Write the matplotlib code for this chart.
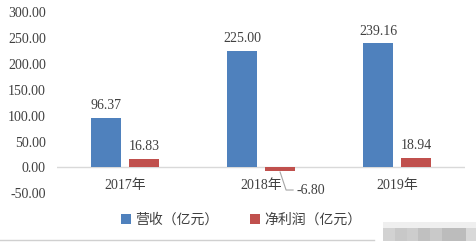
import matplotlib
matplotlib.use("Agg")
import matplotlib.pyplot as plt
import numpy as np

years = ["2017年", "2018年", "2019年"]
revenue = [96.37, 225.00, 239.16]
net_profit = [16.83, -6.80, 18.94]
yticks = [-50, 0, 50, 100, 150, 200, 250, 300]

blue = "#4f81bd"
red = "#c0504d"
txt = "#404040"
fam = ["Liberation Serif", "Noto Sans CJK SC"]

fig = plt.figure(figsize=(4.77, 2.43), dpi=100)
ax = fig.add_axes([0.1195, 0.204, 0.8555, 0.747])

x = np.arange(len(years))
w = 0.22
off = 0.14
ax.bar(x - off, revenue, width=w, color=blue, label="营收（亿元）")
ax.bar(x + off, net_profit, width=w, color=red, label="净利润（亿元）")

ax.set_xlim(-0.5, 2.5)
ax.set_ylim(-50, 300)
ax.axhline(0, color="#d9d9d9", lw=1, zorder=0)
for s in ax.spines.values():
    s.set_visible(False)
ax.set_xticks([])
ax.set_yticks(yticks)
ax.set_yticklabels([f"{v:.2f}" for v in yticks], family=fam, fontsize=10, color=txt)
ax.tick_params(axis="y", length=0, pad=8)

for i, y in enumerate(years):
    ax.annotate(y, (i, 0), xytext=(0, -8), textcoords="offset points",
                ha="center", va="top", family=fam, fontsize=10, color=txt)

for i, v in enumerate(revenue):
    ax.annotate(f"{v:.2f}", (i - off, v), xytext=(0, 4), textcoords="offset points",
                ha="center", va="bottom", family=fam, fontsize=10, color=txt)
for i, v in enumerate(net_profit):
    if v >= 0:
        ax.annotate(f"{v:.2f}", (i + off, v), xytext=(0, 4), textcoords="offset points",
                    ha="center", va="bottom", family=fam, fontsize=10, color=txt)
    else:
        # label off to the right with a bent leader line (pixel offsets)
        base = ax.transData.transform((i + off, v))
        pts = np.array([[0, -1], [6, -19], [13, -19]])
        path = ax.transData.inverted().transform(base + pts)
        ax.plot(path[:, 0], path[:, 1], color="#a6a6a6", lw=0.8)
        ax.annotate(f"{v:.2f}", (i + off, v), xytext=(16, -19),
                    textcoords="offset pixels", ha="left", va="center",
                    family=fam, fontsize=10, color=txt)

fig.legend(loc="center", bbox_to_anchor=(0.505, 0.095), ncol=2, frameon=False,
           handlelength=0.7, handleheight=0.7, handletextpad=0.3, columnspacing=2.3,
           prop={"family": "Noto Sans CJK SC", "size": 10}, labelcolor=txt)

fig.add_artist(plt.Line2D([0, 0.785], [0.012, 0.012], color="#d0d0d0", lw=1))

# blurred watermark blocks, bottom right
fig.add_artist(plt.Rectangle((0.803, 0.062), 0.197, 0.026, color="#efefef", lw=0))
shades = ["#d2d2d2", "#c8c8c8", "#cdcdcd", "#c0c0c0", "#c9c9c9", "#bcbcbc", "#bcbcbc", "#d8d8d8"]
for k, c in enumerate(shades):
    fig.add_artist(plt.Rectangle((0.803 + k * 0.0247, 0.008), 0.0247, 0.054, color=c, lw=0))

fig.savefig("out.png", dpi=100)
